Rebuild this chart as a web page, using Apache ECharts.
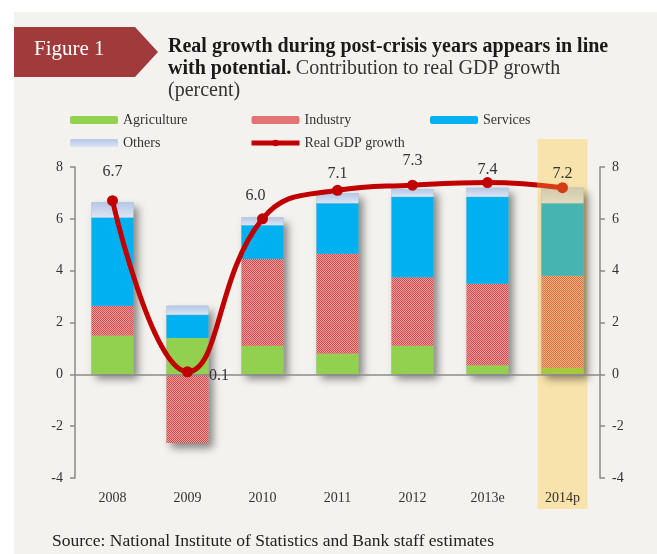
<!DOCTYPE html>
<html>
<head>
<meta charset="utf-8">
<script src="https://cdn.jsdelivr.net/npm/echarts@6/dist/echarts.min.js"></script>
<style>
  html, body { margin: 0; padding: 0; background: #fff; }
  #wrap { position: relative; width: 657px; height: 554px; }
  #panel { position: absolute; left: 14px; top: 12px; right: 0; bottom: 0; background: #f4f2ee; }
  #chart { position: absolute; left: 0; top: 0; width: 657px; height: 554px; }
</style>
</head>
<body>
<div id="wrap"><div id="panel"></div><div id="chart"></div></div>
<script>
var years = ['2008', '2009', '2010', '2011', '2012', '2013e', '2014p'];
var agriculture = [1.5, 1.4, 1.1, 0.8, 1.1, 0.35, 0.25];
var industry = [1.15, -2.65, 3.35, 3.85, 2.65, 3.15, 3.55];
var services = [3.4, 0.9, 1.3, 1.95, 3.1, 3.35, 2.8];
var others = [0.6, 0.35, 0.3, 0.4, 0.3, 0.35, 0.6];
var gdpGrowth = [6.7, 0.1, 6.0, 7.1, 7.3, 7.4, 7.2];
var highlighted = '2014p';

// label nudges for the GDP line, [dx, dy]; null = label on the right
var labelNudge = [[0, -10], null, [-7, -5], [0, 2], [0, -6], [0, 6], [0, 5]];

var FONT = 'Liberation Serif';

function checker(a, b) {
  var c = document.createElement('canvas');
  c.width = 2; c.height = 2;
  var ctx = c.getContext('2d');
  ctx.fillStyle = b; ctx.fillRect(0, 0, 2, 2);
  ctx.fillStyle = a; ctx.fillRect(0, 0, 1, 1); ctx.fillRect(1, 1, 1, 1);
  return { image: c, repeat: 'repeat' };
}

function vGrad(top, bottom) {
  return new echarts.graphic.LinearGradient(0, 0, 0, 1, [
    { offset: 0, color: top }, { offset: 1, color: bottom }
  ]);
}

var colors = {
  agriculture: '#92d050',
  industry: checker('#d94848', '#eea0a0'),
  services: '#00b0f0',
  others: vGrad('#b4c7e7', '#dbe5f4')
};
var tinted = {
  agriculture: '#a9c73c',
  industry: checker('#e0693a', '#f3b888'),
  services: '#46b4b0',
  others: vGrad('#cfc9ae', '#e4dcbc')
};

function withTint(values, key) {
  return values.map(function (v, i) {
    if (years[i] !== highlighted) return v;
    return { value: v, itemStyle: { color: tinted[key] } };
  });
}

var posTotals = years.map(function (y, i) {
  return [agriculture, industry, services, others].reduce(function (s, a) { return s + Math.max(0, a[i]); }, 0);
});
var negTotals = years.map(function (y, i) {
  return [agriculture, industry, services, others].reduce(function (s, a) { return s + Math.min(0, a[i]); }, 0);
});

function stackBar(name, key, values) {
  return {
    name: name, type: 'bar', stack: 'parts', barWidth: 42, barGap: '-100%', z: 3,
    itemStyle: { color: colors[key] },
    data: withTint(values, key)
  };
}

function shadowBar(values) {
  return {
    type: 'bar', stack: 'shadow', barWidth: 42, barGap: '-100%', z: 2, silent: true,
    itemStyle: {
      color: '#b0b0b0', shadowBlur: 8, shadowOffsetX: 4, shadowOffsetY: 5,
      shadowColor: 'rgba(0,0,0,0.45)'
    },
    data: values
  };
}

var gdpData = gdpGrowth.map(function (v, i) {
  var d = { value: v, label: {} };
  if (labelNudge[i]) {
    d.label = { position: 'top', offset: labelNudge[i] };
  } else {
    d.label = { position: 'right', distance: 16, offset: [0, 4] };
  }
  if (years[i] === highlighted) d.itemStyle = { color: '#d83c12' };
  return d;
});

var axisGrey = '#8a8a8a';
function valueAxis(pos) {
  return {
    type: 'value', position: pos, min: -4, max: 8, interval: 2,
    axisLine: { show: true, lineStyle: { color: axisGrey, width: 1.5 } },
    axisTick: { show: true, length: 5, lineStyle: { color: axisGrey, width: 1.5 } },
    axisLabel: { color: '#333', fontFamily: FONT, fontSize: 14, margin: 12 },
    splitLine: { show: false }
  };
}

var legendText = { color: '#333', fontFamily: FONT, fontSize: 14 };
function legendCol(items, left) {
  return {
    data: items, left: left, top: 108, orient: 'vertical',
    itemWidth: 48, itemHeight: 8, itemGap: 9, textStyle: legendText,
    selectedMode: false
  };
}

var chart = echarts.init(document.getElementById('chart'));
chart.setOption({
  animation: false,
  backgroundColor: 'transparent',
  textStyle: { fontFamily: FONT },
  title: {
    left: 163, top: 31,
    text: '{b|Real growth during post-crisis years appears in line}\n{b|with potential.} {r|Contribution to real GDP growth}\n{r|(percent)}',
    textStyle: {
      fontWeight: 'normal',
      rich: {
        b: { fontFamily: FONT, fontWeight: 'bold', fontSize: 20, color: '#1a1a1a', lineHeight: 22 },
        r: { fontFamily: FONT, fontWeight: 'normal', fontSize: 20, color: '#333', lineHeight: 22 }
      }
    }
  },
  legend: [
    legendCol(['Agriculture', 'Others'], 65),
    legendCol(['Industry', {
      name: 'Real GDP growth',
      lineStyle: { width: 5, color: '#c00000' },
      itemStyle: { color: '#c00000' }
    }], 244),
    legendCol(['Services'], 425)
  ],
  grid: { left: 75, right: 57, top: 167, bottom: 76 },
  xAxis: {
    type: 'category', data: years,
    axisLine: { show: false, onZero: false },
    axisTick: { show: false },
    axisLabel: { color: '#333', fontFamily: FONT, fontSize: 14, margin: 13 }
  },
  yAxis: [valueAxis('left'), valueAxis('right')],
  series: [
    Object.assign(shadowBar(posTotals), {
      markLine: {
        silent: true, symbol: 'none', label: { show: false },
        lineStyle: { color: axisGrey, type: 'solid', width: 1.5 },
        data: [{ yAxis: 0 }]
      }
    }),
    shadowBar(negTotals),
    stackBar('Agriculture', 'agriculture', agriculture),
    stackBar('Industry', 'industry', industry),
    stackBar('Services', 'services', services),
    stackBar('Others', 'others', others),
    {
      id: 'gdp', name: 'Real GDP growth', type: 'line', smooth: 0.45, z: 5,
      symbol: 'circle', symbolSize: 11,
      lineStyle: { color: '#c00000', width: 5 },
      itemStyle: { color: '#c00000' },
      label: {
        show: true, color: '#333', fontFamily: FONT, fontSize: 16,
        formatter: function (p) { return p.value.toFixed(1); }
      },
      data: gdpData
    }
  ]
});

// highlight band behind the projected year, placed from the category axis
var cx = chart.convertToPixel({ xAxisIndex: 0 }, highlighted);
var bandL = cx - 25, bandR = cx + 25;
var cut = bandL / 657;
chart.setOption({
  graphic: [
    {
      type: 'polygon', z: -1, silent: true,
      shape: { points: [[14, 27], [135, 27], [158, 52], [135, 77], [14, 77]] },
      style: { fill: '#a13a3b' }
    },
    {
      type: 'text', left: 34, top: 39, silent: true,
      style: { text: 'Figure 1', fill: '#fff', font: '21px "Liberation Serif"' }
    },
    {
      type: 'rect', z: -1, silent: true,
      shape: { x: bandL, y: 139, width: bandR - bandL, height: 370 },
      style: { fill: '#f7e3ab' }
    },
    {
      type: 'text', left: 52, top: 532, silent: true,
      style: { text: 'Source: National Institute of Statistics and Bank staff estimates', fill: '#222', font: '17.5px "Liberation Serif"' }
    }
  ],
  series: [{
    id: 'gdp',
    lineStyle: {
      color: new echarts.graphic.LinearGradient(0, 0, 657, 0, [
        { offset: 0, color: '#c00000' }, { offset: cut, color: '#c00000' },
        { offset: cut, color: '#d83c12' }, { offset: 1, color: '#d83c12' }
      ], true)
    }
  }]
});
</script>
</body>
</html>
